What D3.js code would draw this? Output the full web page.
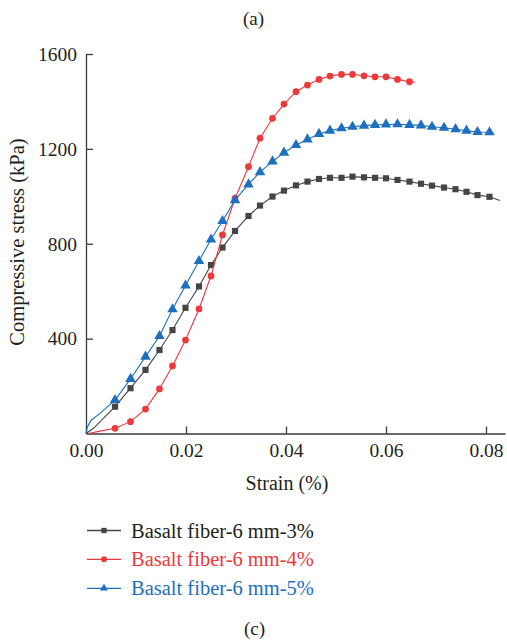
<!DOCTYPE html>
<html>
<head>
<meta charset="utf-8">
<script src="https://cdn.jsdelivr.net/npm/d3@7/dist/d3.min.js"></script>
<style>
  html, body { margin: 0; padding: 0; background: #fff; }
  svg { display: block; }
  svg text { font-family: "Liberation Serif", "DejaVu Serif", serif; }
</style>
</head>
<body>
<svg id="chart" width="507" height="643"></svg>
<script>
// Strain (%) at which the markers are placed (shared by all three mixes)
const strain = [0.0058, 0.0089, 0.0119, 0.0147, 0.0173, 0.0199, 0.0226, 0.0250,
  0.0273, 0.0298, 0.0325, 0.0348, 0.0373, 0.0396, 0.0420, 0.0443, 0.0466, 0.0488,
  0.0511, 0.0533, 0.0556, 0.0578, 0.0600, 0.0623, 0.0647, 0.0670, 0.0692, 0.0716,
  0.0739, 0.0761, 0.0783, 0.0807];

// Compressive stress (kPa) at those strains
const stress3 = [113, 191, 268, 352, 436, 530, 620, 710, 784, 854, 917, 961, 999,
  1024, 1046, 1062, 1073, 1078, 1078, 1083, 1080, 1078, 1076, 1069, 1062, 1053,
  1045, 1037, 1030, 1019, 1005, 998];
const stress4 = [22, 50, 103, 188, 285, 394, 525, 664, 837, 991, 1125, 1245, 1329,
  1389, 1441, 1469, 1493, 1507, 1514, 1514, 1508, 1504, 1504, 1493, 1483];
const stress5 = [141, 230, 324, 411, 524, 624, 727, 818, 896, 984, 1050, 1102, 1147,
  1184, 1216, 1240, 1263, 1277, 1287, 1293, 1298, 1301, 1303, 1304, 1301, 1299,
  1293, 1289, 1283, 1277, 1271, 1270];

// Unmarked start and end of each recorded curve: [strain, stress]
const lead3 = [[0, 0], [0.0015, 22]];
const tail3 = [[0.0828, 982]];
const lead4 = [[0.0005, 0], [0.0028, 10]];
const tail4 = [[0.0658, 1481]];
const lead5 = [[0, 0], [0.0002, 24], [0.0010, 55], [0.0028, 85]];
const tail5 = [[0.0815, 1263]];

const seriesNames = ["Basalt fiber-6 mm-3%", "Basalt fiber-6 mm-4%", "Basalt fiber-6 mm-5%"];
const seriesColors = ["#454545", "#ec3a3c", "#1f6fbf"];
const seriesShapes = [d3.symbolSquare, d3.symbolCircle, d3.symbolTriangle];
const shapeSizes = [38, 36, 48];

const xTicks = [0, 0.02, 0.04, 0.06, 0.08];
const yTicks = [400, 800, 1200, 1600];

const svg = d3.select("#chart");
const serif = "'Liberation Serif', 'DejaVu Serif', serif";
const textColor = "#231f20";
const axisColor = "#3a3a3a";

const x = d3.scaleLinear().domain([0, 0.0838]).range([86, 505]);
const y = d3.scaleLinear().domain([0, 1600]).range([433.5, 54]);

// Axes with inward ticks
const xAxis = svg.append("g")
  .attr("transform", `translate(0,${y(0)})`)
  .call(d3.axisBottom(x).tickValues(xTicks).tickFormat(d3.format(".2f"))
    .tickSizeInner(-7).tickSizeOuter(0).tickPadding(10));
const yAxis = svg.append("g")
  .attr("transform", `translate(${x(0)},0)`)
  .call(d3.axisLeft(y).tickValues(yTicks).tickFormat(d3.format("d"))
    .tickSizeInner(-7).tickSizeOuter(0).tickPadding(9));
[xAxis, yAxis].forEach(g => {
  g.attr("font-family", serif);
  g.select(".domain").attr("stroke", axisColor).attr("stroke-width", 1.3);
  g.selectAll(".tick line").attr("stroke", axisColor).attr("stroke-width", 1.3);
  g.selectAll(".tick text").attr("fill", textColor)
    .style("font-family", serif).style("font-size", "19.5px");
});

// Series
const series = [
  { lead: lead3, vals: stress3, tail: tail3 },
  { lead: lead4, vals: stress4, tail: tail4 },
  { lead: lead5, vals: stress5, tail: tail5 }
].map((s, i) => {
  const marks = s.vals.map((v, j) => [strain[j], v]);
  return { name: seriesNames[i], color: seriesColors[i], shape: seriesShapes[i],
    size: shapeSizes[i], marks, path: s.lead.concat(marks, s.tail) };
});

const line = d3.line().x(d => x(d[0])).y(d => y(d[1]));

series.forEach(s => {
  const g = svg.append("g");
  g.append("path").datum(s.path)
    .attr("d", line)
    .attr("fill", "none")
    .attr("stroke", s.color)
    .attr("stroke-width", 1.1);
  g.selectAll("path.mark").data(s.marks).join("path")
    .attr("class", "mark")
    .attr("transform", d => `translate(${x(d[0])},${y(d[1])})`)
    .attr("d", d3.symbol(s.shape, s.size))
    .attr("fill", s.color);
});

// Titles and axis labels
function label(t) {
  return t.attr("fill", textColor).style("font-family", serif);
}
label(svg.append("text").attr("x", 253.5).attr("y", 18).attr("dy", "0.35em")
  .attr("text-anchor", "middle").style("font-size", "19px").text("(a)"));
label(svg.append("text").attr("x", 254.5).attr("y", 628).attr("dy", "0.35em")
  .attr("text-anchor", "middle").style("font-size", "19px").text("(c)"));
label(svg.append("text").attr("x", 287).attr("y", 490)
  .attr("text-anchor", "middle").style("font-size", "20px").text("Strain (%)"));
label(svg.append("text")
  .attr("transform", "translate(24,242) rotate(-90)")
  .attr("text-anchor", "middle").style("font-size", "20.5px")
  .text("Compressive stress (kPa)"));

// Legend
const legendRows = [530.5, 559.3, 588.3];
series.forEach((s, i) => {
  const g = svg.append("g").attr("transform", `translate(0,${legendRows[i]})`);
  g.append("line").attr("x1", 87).attr("x2", 121).attr("y1", 0).attr("y2", 0)
    .attr("stroke", s.color).attr("stroke-width", 1.3);
  g.append("path").attr("transform", "translate(104,0)")
    .attr("d", d3.symbol(s.shape, 28)).attr("fill", s.color);
  g.append("text").attr("x", 131).attr("y", 0).attr("dy", "0.35em")
    .attr("fill", i === 0 ? textColor : s.color)
    .style("font-family", serif)
    .style("font-size", "20.5px").text(s.name);
});
</script>
</body>
</html>
